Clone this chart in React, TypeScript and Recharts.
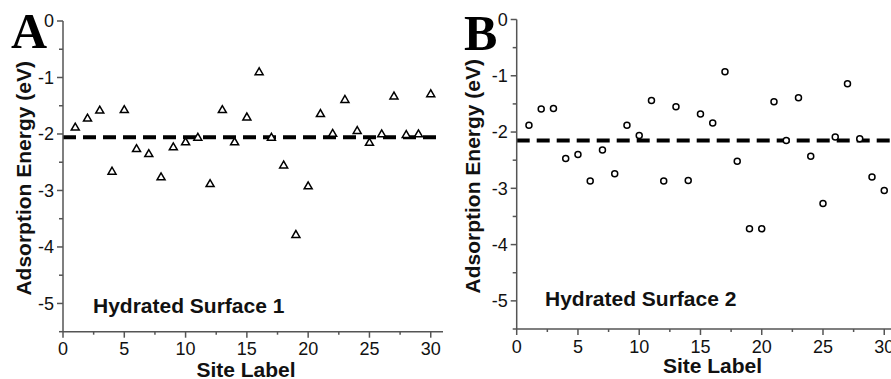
import React from 'react';
import { ScatterChart, Scatter, XAxis, YAxis, ReferenceLine } from 'recharts';

const sites = [1, 2, 3, 4, 5, 6, 7, 8, 9, 10, 11, 12, 13, 14, 15, 16, 17, 18, 19, 20, 21, 22, 23, 24, 25, 26, 27, 28, 29, 30];

// Hydrated Surface 1 (triangles)
const surface1 = [
  -1.89, -1.73, -1.59, -2.67, -1.58, -2.27, -2.36, -2.77, -2.24, -2.15,
  -2.07, -2.89, -1.58, -2.15, -1.71, -0.91, -2.07, -2.56, -3.79, -2.93,
  -1.65, -2.0, -1.4, -1.95, -2.16, -2.01, -1.34, -2.02, -2.01, -1.3,
];
const mean1 = -2.06;

// Hydrated Surface 2 (circles)
const surface2 = [
  -1.88, -1.59, -1.58, -2.47, -2.4, -2.87, -2.32, -2.74, -1.88, -2.06,
  -1.44, -2.87, -1.55, -2.86, -1.68, -1.84, -0.93, -2.52, -3.72, -3.72,
  -1.46, -2.15, -1.39, -2.43, -3.27, -2.09, -1.14, -2.12, -2.8, -3.04,
];
const mean2 = -2.15;

const xTicks = [0, 2.5, 5, 7.5, 10, 12.5, 15, 17.5, 20, 22.5, 25, 27.5, 30];
const yTicks = [0, -0.5, -1, -1.5, -2, -2.5, -3, -3.5, -4, -4.5, -5, -5.5];

const AXIS = '#555';
const INK = '#111';
const SANS = '"Liberation Sans", Arial, sans-serif';

const XTick = (props: any) => {
  const { x, y, payload } = props;
  const major = payload.value % 5 === 0;
  return (
    <g>
      <line x1={x} x2={x} y1={y} y2={y + (major ? 6 : 3)} stroke={AXIS} strokeWidth={1.5} />
      {major && (
        <text x={x} y={y + 23.5} textAnchor="middle" fontSize={18} fontFamily={SANS} fill={INK}>
          {payload.value}
        </text>
      )}
    </g>
  );
};

const YTick = (props: any) => {
  const { x, y, payload } = props;
  const major = Number.isInteger(payload.value);
  return (
    <g>
      <line x1={x} x2={x - (major ? 6 : 4)} y1={y} y2={y} stroke={AXIS} strokeWidth={1.5} />
      {major && (
        <text x={x - 9} y={y} dy="0.35em" textAnchor="end" fontSize={18} fontFamily={SANS} fill={INK}>
          {payload.value}
        </text>
      )}
    </g>
  );
};

const Triangle = (props: any) => {
  const { cx, cy } = props;
  return (
    <polygon
      points={`${cx},${cy - 4.6} ${cx - 4},${cy + 2.3} ${cx + 4},${cy + 2.3}`}
      fill="#fff"
      stroke="#000"
      strokeWidth={1.5}
    />
  );
};

const Circle = (props: any) => {
  const { cx, cy } = props;
  return <circle cx={cx} cy={cy} r={3} fill="#fff" stroke="#000" strokeWidth={1.5} />;
};

interface PanelProps {
  letter: string;
  title: string;
  values: number[];
  mean: number;
  shape: (p: any) => React.ReactElement;
  width: number;
  yAxisWidth: number;
  top: number;
  xAxisHeight: number;
  right: number;
  letterX: number;
  letterY: number;
  titleX: number;
  titleY: number;
  yTitleX: number;
  xTitleX: number;
  xTitleY: number;
}

function Panel(p: PanelProps) {
  const data = sites.map((s, i) => ({ site: s, energy: p.values[i] }));
  const plotTop = p.top;
  const plotBottom = 379 - p.xAxisHeight;
  const yMid = (plotTop + plotBottom) / 2 + 2;
  return (
    <ScatterChart
      width={p.width}
      height={379}
      margin={{ top: p.top, right: p.right, left: 0, bottom: 0 }}
    >
      <XAxis
        dataKey="site"
        type="number"
        domain={[0, 31]}
        ticks={xTicks}
        interval={0}
        height={p.xAxisHeight}
        tickSize={0}
        tickMargin={0}
        tickLine={false}
        tick={<XTick />}
        axisLine={{ stroke: AXIS, strokeWidth: 1.5 }}
      />
      <XAxis
        xAxisId="top"
        orientation="top"
        type="number"
        domain={[0, 31]}
        height={0}
        tick={false}
        tickLine={false}
        axisLine={{ stroke: AXIS, strokeWidth: 1.5 }}
      />
      <YAxis
        dataKey="energy"
        type="number"
        domain={[-5.5, 0]}
        ticks={yTicks}
        interval={0}
        width={p.yAxisWidth}
        tickSize={0}
        tickMargin={0}
        tickLine={false}
        tick={<YTick />}
        axisLine={{ stroke: AXIS, strokeWidth: 1.5 }}
      />
      <YAxis
        yAxisId="right"
        orientation="right"
        type="number"
        domain={[-5.5, 0]}
        width={0}
        tick={false}
        tickLine={false}
        axisLine={{ stroke: AXIS, strokeWidth: 1.5 }}
      />
      <Scatter data={data} shape={p.shape} isAnimationActive={false} />
      <ReferenceLine y={p.mean} stroke="#000" strokeWidth={4} strokeDasharray="13 7" />
      <text x={p.letterX} y={p.letterY} fontSize={50} fontWeight="bold" fontFamily='"Liberation Serif", "Times New Roman", serif' fill="#000">
        {p.letter}
      </text>
      <text x={p.titleX} y={p.titleY} fontSize={21} fontWeight="bold" fontFamily={SANS} fill={INK}>
        {p.title}
      </text>
      <text
        x={p.yTitleX}
        y={yMid}
        transform={`rotate(-90 ${p.yTitleX} ${yMid})`}
        dy="0.35em"
        textAnchor="middle"
        fontSize={21}
        fontWeight="bold"
        fontFamily={SANS}
        fill={INK}
      >
        Adsorption Energy (eV)
      </text>
      <text x={p.xTitleX} y={p.xTitleY} textAnchor="middle" fontSize={21} fontWeight="bold" fontFamily={SANS} fill={INK}>
        Site Label
      </text>
    </ScatterChart>
  );
}

export default function App() {
  return (
    <div style={{ position: 'absolute', left: 0, top: 0, width: 891, height: 379, overflow: 'hidden', background: '#fff' }}>
      <div style={{ position: 'absolute', left: 0, top: 0 }}>
        <Panel
          letter="A"
          title="Hydrated Surface 1"
          values={surface1}
          mean={mean1}
          shape={Triangle}
          width={450}
          yAxisWidth={63}
          top={21}
          xAxisHeight={47.3}
          right={7}
          letterX={11}
          letterY={48}
          titleX={93}
          titleY={313}
          yTitleX={24}
          xTitleX={246}
          xTitleY={377}
        />
      </div>
      <div style={{ position: 'absolute', left: 440, top: 0 }}>
        <Panel
          letter="B"
          title="Hydrated Surface 2"
          values={surface2}
          mean={mean2}
          shape={Circle}
          width={460}
          yAxisWidth={76.7}
          top={19.5}
          xAxisHeight={50}
          right={3.5}
          letterX={24}
          letterY={50}
          titleX={105}
          titleY={306}
          yTitleX={33}
          xTitleX={272.5}
          xTitleY={373}
        />
      </div>
    </div>
  );
}
